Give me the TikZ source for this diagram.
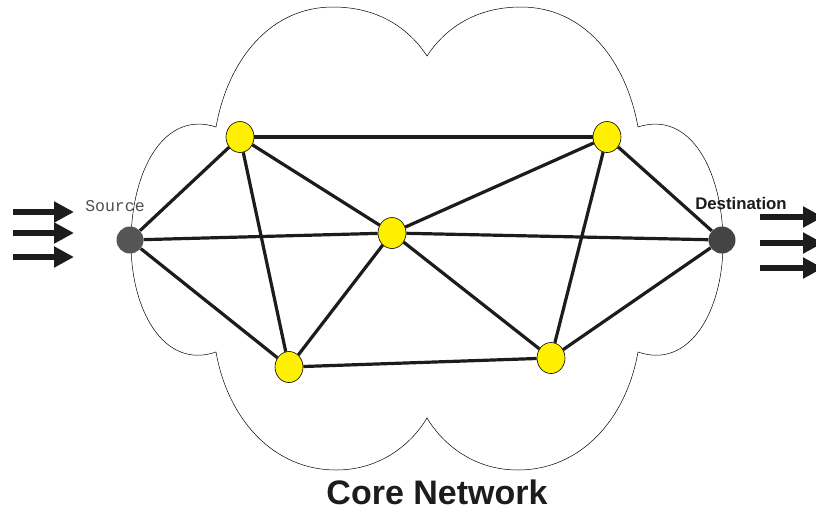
\documentclass[tikz,border=0pt]{standalone}
\usepackage{fontspec}
\setmainfont{Liberation Sans}
\newfontfamily\monofont{Liberation Mono}
\usetikzlibrary{arrows.meta,shapes.geometric}
\definecolor{nodeyellow}{RGB}{255,240,0}
\definecolor{linkdark}{RGB}{28,28,28}
\definecolor{srcgray}{RGB}{85,85,85}
\definecolor{dstgray}{RGB}{68,68,68}
\definecolor{labelgray}{RGB}{80,80,80}
\tikzset{
  router/.style={ellipse, draw=black, line width=0.6pt, fill=nodeyellow,
    minimum width=28pt, minimum height=31pt, inner sep=0pt},
  endpoint/.style={circle, minimum size=27pt, inner sep=0pt},
  link/.style={draw=linkdark, line width=3.2pt},
  flow/.style={draw=linkdark, line width=6pt,
    -{Triangle[length=20pt,width=20pt]}},
  cloudline/.style={draw=black, line width=0.5pt}
}
\begin{document}
\begin{tikzpicture}[x=1pt,y=-1pt]
\useasboundingbox (0,0) rectangle (816,512);

% cloud outline
\draw[cloudline]
  (216,127) .. controls (228,60) and (270,7) .. (333,7)
  .. controls (380,7) and (410,30) .. (427,56)
  .. controls (444,30) and (474,7) .. (521,7)
  .. controls (584,7) and (626,60) .. (638,127)
  .. controls (690,110) and (722,170) .. (723,240)
  .. controls (724,310) and (690,370) .. (638,352)
  .. controls (626,420) and (580,470) .. (518,470)
  .. controls (470,470) and (440,440) .. (427,418)
  .. controls (414,440) and (384,470) .. (336,470)
  .. controls (274,470) and (228,420) .. (216,352)
  .. controls (164,370) and (130,310) .. (131,240)
  .. controls (132,170) and (164,110) .. (216,127) -- cycle;

% end points and routers
\node[endpoint, fill=srcgray] (src) at (130,240) {};
\node[endpoint, fill=dstgray] (dst) at (722,240) {};
\node[router] (a) at (240,137) {};
\node[router] (b) at (607,137) {};
\node[router] (c) at (392,233) {};
\node[router] (d) at (289,367) {};
\node[router] (e) at (551,358) {};

% links
\draw[link] (src) -- (a);
\draw[link] (src) -- (c);
\draw[link] (src) -- (d);
\draw[link] (a) -- (b);
\draw[link] (a) -- (c);
\draw[link] (a) -- (d);
\draw[link] (b) -- (c);
\draw[link] (b) -- (e);
\draw[link] (b) -- (dst);
\draw[link] (c) -- (d);
\draw[link] (c) -- (e);
\draw[link] (c) -- (dst);
\draw[link] (d) -- (e);
\draw[link] (e) -- (dst);

% labels
\node[text=labelgray, font=\monofont\fontsize{16.5}{16.5}\selectfont] (srclabel) at (115,206) {Source};
\node[font=\bfseries\fontsize{16.8}{16.8}\selectfont, text=linkdark] (dstlabel) at (741,203) {Destination};
\node[font=\bfseries\fontsize{34}{34}\selectfont, text=linkdark] (title) at (437,492) {Core Network};

% incoming and outgoing traffic
\coordinate (in1s) at (13,212); \coordinate (in1e) at (74,212);
\coordinate (in2s) at (13,233); \coordinate (in2e) at (74,233);
\coordinate (in3s) at (13,257); \coordinate (in3e) at (74,257);
\coordinate (out1s) at (760,217); \coordinate (out1e) at (823,217);
\coordinate (out2s) at (760,243); \coordinate (out2e) at (823,243);
\coordinate (out3s) at (760,268); \coordinate (out3e) at (823,268);
\draw[flow] (in1s) -- (in1e);
\draw[flow] (in2s) -- (in2e);
\draw[flow] (in3s) -- (in3e);
\draw[flow] (out1s) -- (out1e);
\draw[flow] (out2s) -- (out2e);
\draw[flow] (out3s) -- (out3e);
\end{tikzpicture}
\end{document}
